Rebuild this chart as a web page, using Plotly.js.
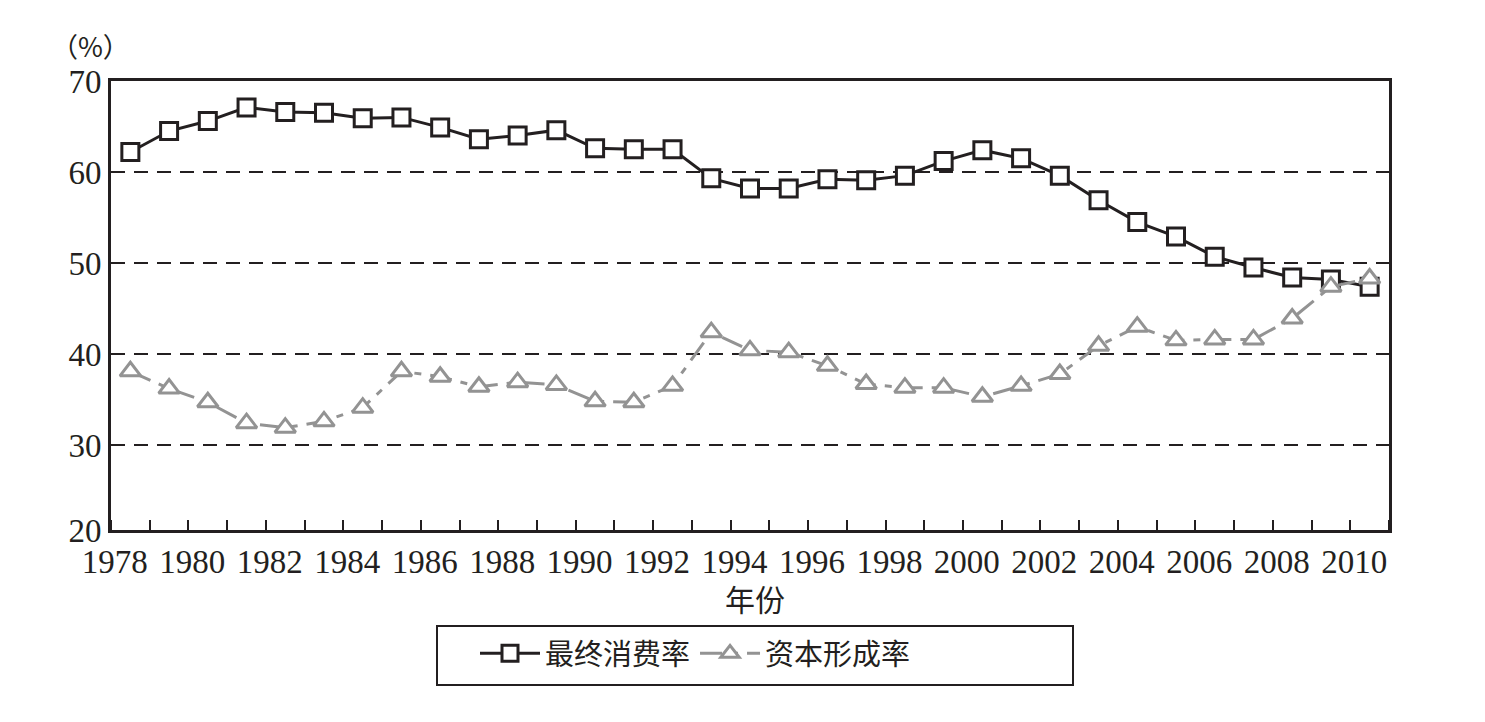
<!DOCTYPE html>
<html>
<head>
<meta charset="utf-8">
<script src="https://cdn.plot.ly/plotly-3.0.1.min.js"></script>
<style>html,body{margin:0;padding:0;background:#fff;}#chart{width:1485px;height:722px;}</style>
</head>
<body>
<div id="chart"></div>
<script>
const years = [1978,1979,1980,1981,1982,1983,1984,1985,1986,1987,1988,1989,1990,1991,1992,1993,1994,1995,1996,1997,1998,1999,2000,2001,2002,2003,2004,2005,2006,2007,2008,2009,2010];
const consumptionRate = [62.2,64.5,65.6,67.1,66.6,66.5,65.9,66.0,64.9,63.6,64.0,64.6,62.6,62.5,62.5,59.3,58.2,58.2,59.2,59.1,59.6,61.2,62.4,61.5,59.6,56.9,54.5,52.9,50.7,49.5,48.4,48.2,47.4];
const capitalRate = [38.1,36.2,34.7,32.4,31.9,32.6,34.1,38.1,37.5,36.4,36.9,36.6,34.8,34.7,36.5,42.4,40.4,40.2,38.7,36.7,36.3,36.3,35.3,36.5,37.8,40.9,43.0,41.5,41.6,41.6,43.9,47.4,48.3];
const seriesNames = ['最终消费率','资本形成率'];
const xTickYears = [1978,1980,1982,1984,1986,1988,1990,1992,1994,1996,1998,2000,2002,2004,2006,2008,2010];
const xTickLabels = xTickYears.map(String);
const yTickValues = [20,30,40,50,60,70];
const yTickLabels = yTickValues.map(String);
const xTitle = '年份';
const yUnit = '（%）';

const ink = '#231f20';
const grey = '#939393';
const serif = 'Liberation Serif, DejaVu Serif, serif';
const cjk = 'Noto Sans CJK SC, sans-serif';
const yBottom = 20.66;

// pixel helpers for the paper-space placement of decorations (plot area 111..1389 x 81..530)
const px = x => (x - 111) / 1278;
const py = y => (530 - y) / 449;

const traces = [
  {
    x: years, y: consumptionRate, name: seriesNames[0], type: 'scatter', mode: 'lines+markers',
    line: {color: ink, width: 3},
    marker: {symbol: 'square', size: 17, color: '#ffffff', line: {color: ink, width: 3}}
  },
  {
    x: years, y: capitalRate, name: seriesNames[1], type: 'scatter', mode: 'lines+markers',
    line: {color: grey, width: 3, dash: '22px,9px,7px,9px'},
    marker: {symbol: 'triangle-up', size: 18, color: '#ffffff', line: {color: grey, width: 3}}
  }
];

const layout = {
  width: 1485, height: 722,
  margin: {l: 111, r: 96, t: 81, b: 192},
  paper_bgcolor: '#ffffff', plot_bgcolor: '#ffffff',
  showlegend: true,
  font: {family: serif, color: ink},
  xaxis: {
    range: [1977.5, 2010.5],
    tickmode: 'array',
    tickvals: xTickYears.map(y => y - 0.4),
    ticktext: xTickLabels,
    ticks: '', showgrid: false, zeroline: false,
    tickfont: {family: serif, size: 33, color: ink},
    showline: true, linecolor: ink, linewidth: 3, mirror: true,
    minor: {tickmode: 'linear', tick0: 1978.5, dtick: 1, ticks: 'inside', ticklen: 10, tickwidth: 2, tickcolor: ink, showgrid: false},
    fixedrange: true
  },
  yaxis: {
    range: [yBottom, 70],
    tickmode: 'array',
    tickvals: yTickValues.map(v => v === 20 ? yBottom : v),
    ticktext: yTickLabels,
    ticks: '', zeroline: false,
    showgrid: true, gridcolor: ink, gridwidth: 2, griddash: '14px,9px',
    tickfont: {family: serif, size: 33, color: ink},
    showline: true, linecolor: ink, linewidth: 3, mirror: true,
    fixedrange: true
  },
  legend: {
    orientation: 'h', x: px(475), xanchor: 'left', y: py(628), yanchor: 'top',
    borderwidth: 0, bgcolor: 'rgba(0,0,0,0)',
    font: {family: cjk, size: 29, color: ink},
    itemwidth: 60, tracegroupgap: 0
  },
  shapes: [
    {type: 'rect', xref: 'paper', yref: 'paper', x0: px(437), x1: px(1073), y0: py(626), y1: py(685), line: {color: ink, width: 2}, fillcolor: 'rgba(0,0,0,0)'}
  ],
  annotations: [
    {text: xTitle, xref: 'paper', yref: 'paper', x: px(755), y: py(598), xanchor: 'center', yanchor: 'middle', showarrow: false, font: {family: cjk, size: 30, color: ink}},
    {text: yUnit, xref: 'paper', yref: 'paper', x: px(90), y: py(45), xanchor: 'center', yanchor: 'middle', showarrow: false, font: {family: cjk, size: 27, color: ink}}
  ]
};

Plotly.newPlot('chart', traces, layout, {displayModeBar: false, staticPlot: true});
</script>
</body>
</html>
